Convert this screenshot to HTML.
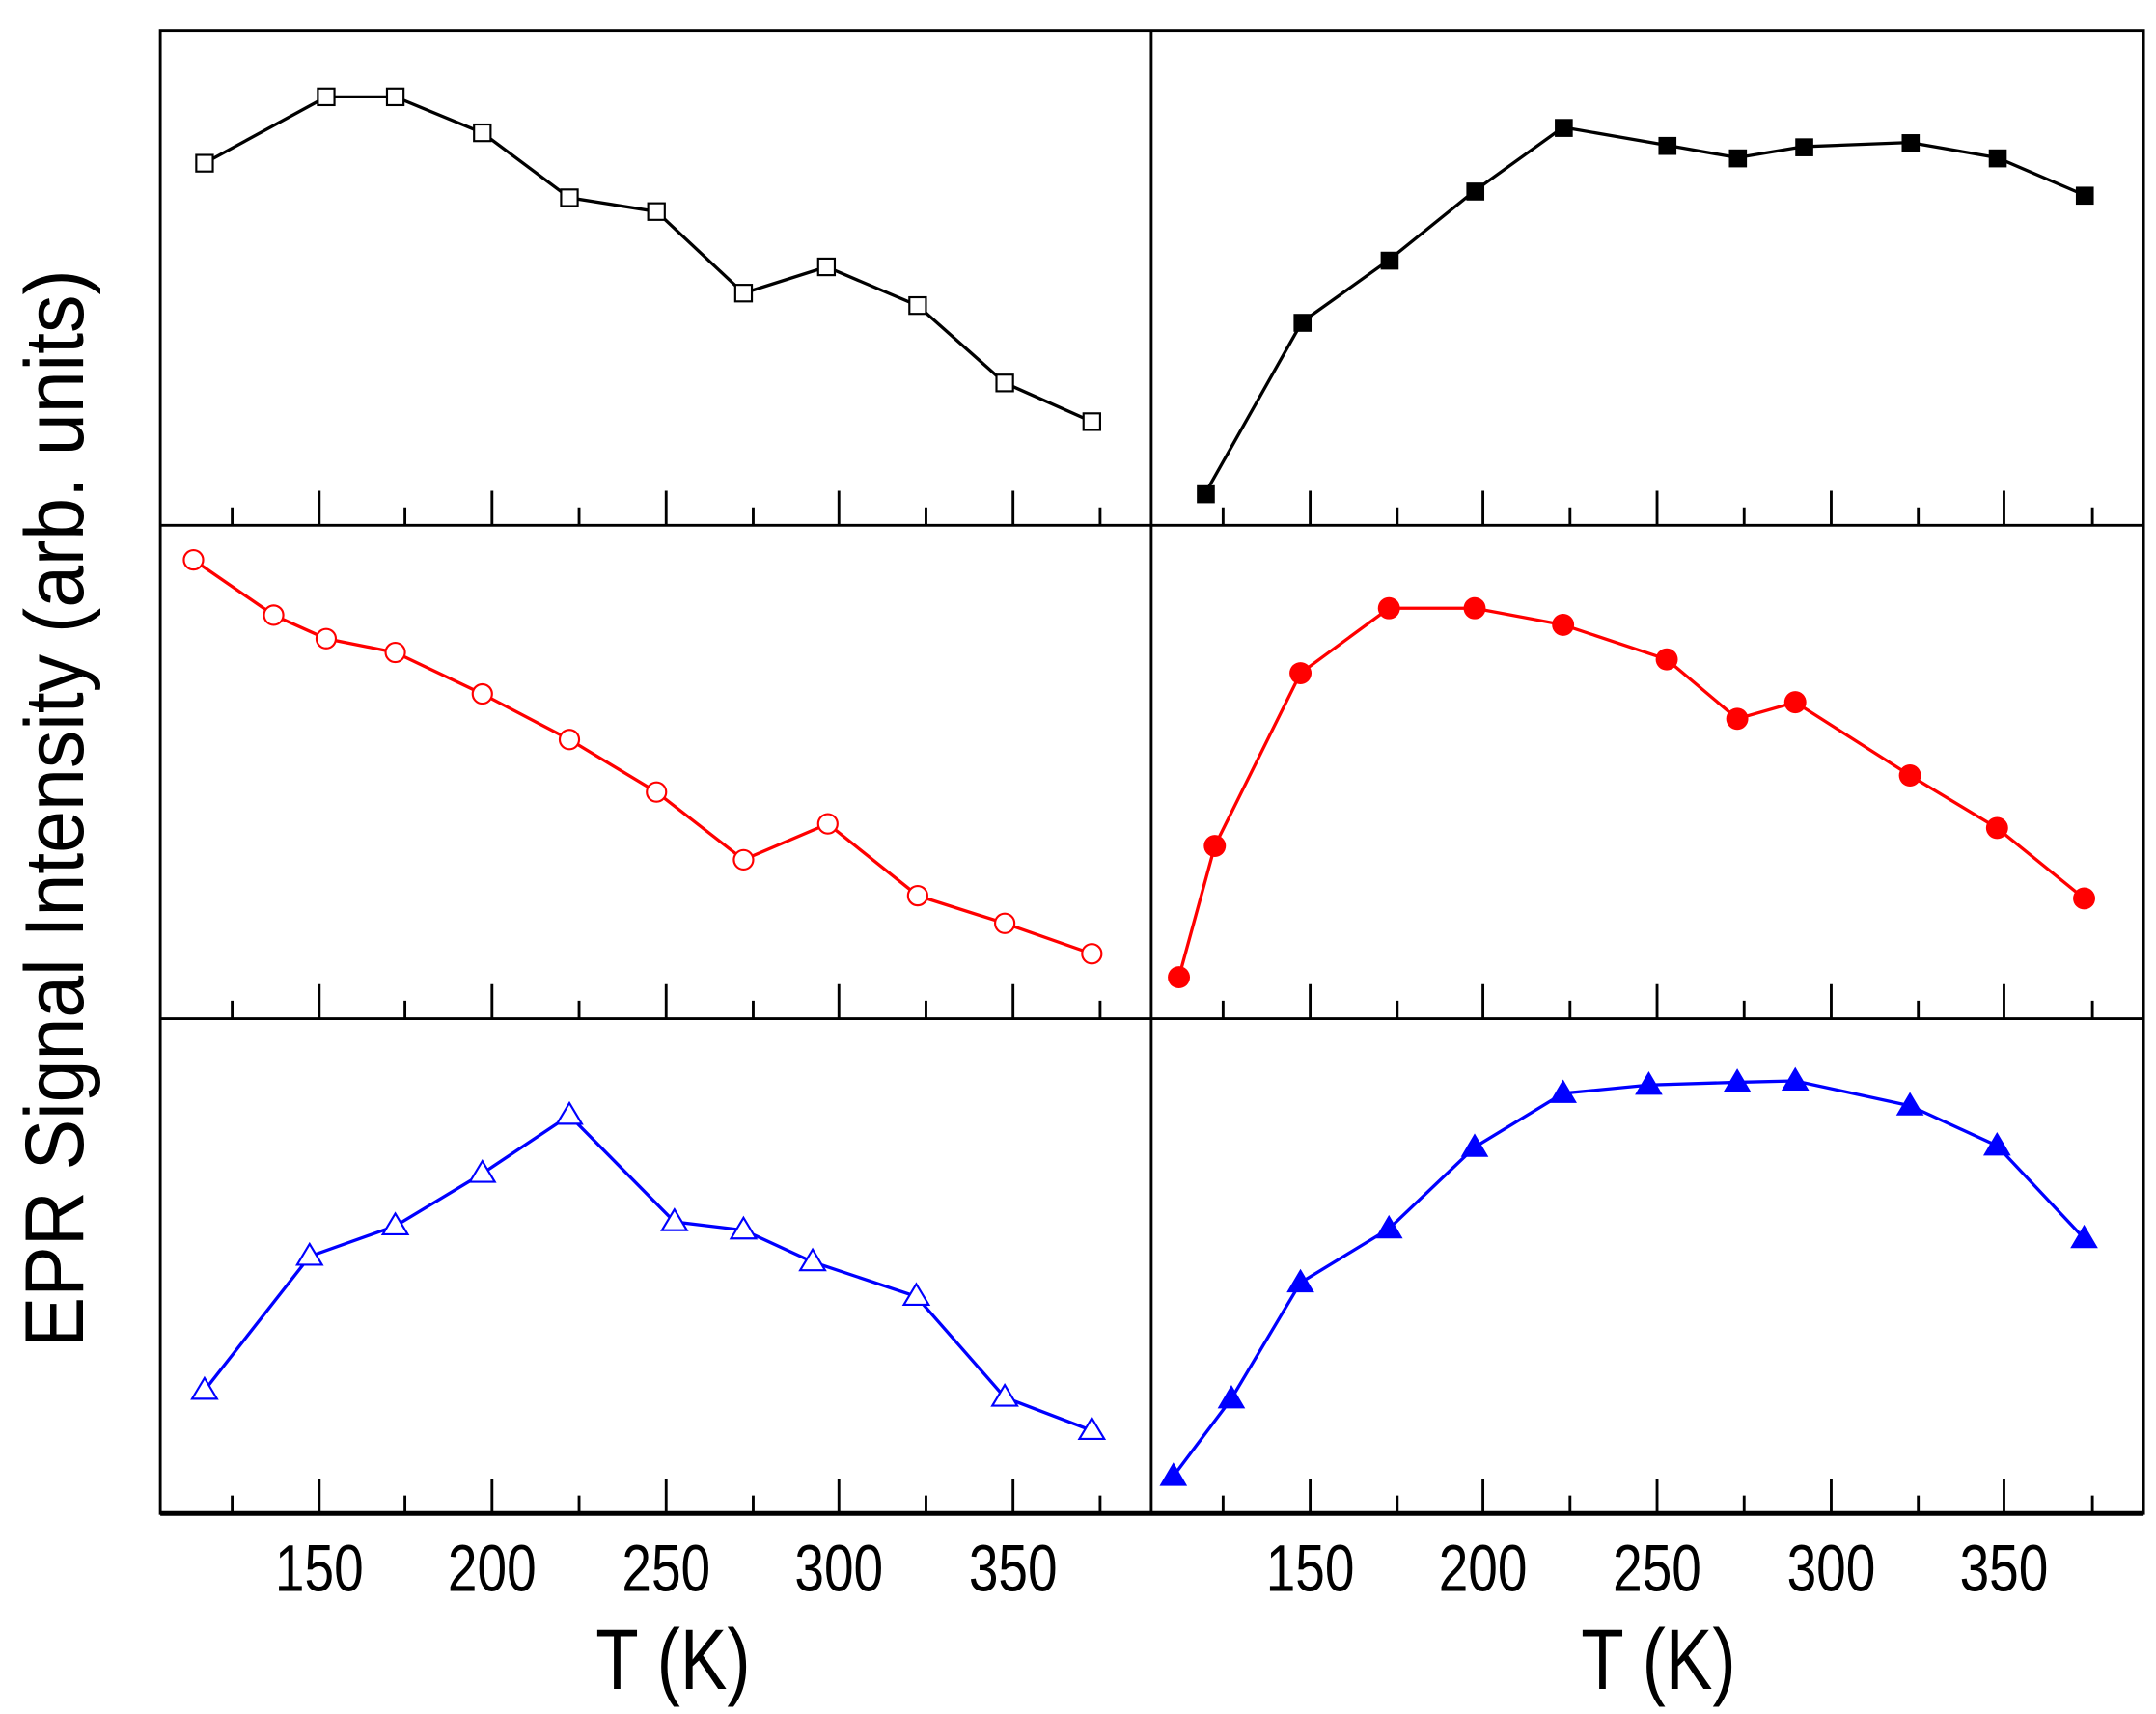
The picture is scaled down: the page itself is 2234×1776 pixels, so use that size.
<!DOCTYPE html>
<html><head><meta charset="utf-8"><style>html,body{margin:0;padding:0;background:#fff}svg{display:block}</style></head>
<body>
<svg width="2234" height="1776" viewBox="0 0 1560 1240" xmlns="http://www.w3.org/2000/svg" font-family="Liberation Sans, Arial, sans-serif">
<rect width="1560" height="1240" fill="#fff"/>
<g stroke="#000" stroke-width="2" fill="none">
<rect x="116" y="22" width="1435" height="1073"/>
<line x1="833" y1="22" x2="833" y2="1095"/>
<line x1="116" y1="380" x2="1551" y2="380"/>
<line x1="116" y1="737" x2="1551" y2="737"/>
<line x1="116" y1="1095" x2="1551" y2="1095" stroke-width="3.5"/>
</g>
<g stroke="#000" stroke-width="2">
<path d="M231 380v-25M356 380v-25M482 380v-25M607 380v-25M733 380v-25M948 380v-25M1073 380v-25M1199 380v-25M1325 380v-25M1450 380v-25
M168 380v-13M293 380v-13M419 380v-13M545 380v-13M670 380v-13M796 380v-13M885 380v-13M1011 380v-13M1136 380v-13M1262 380v-13M1388 380v-13M1514 380v-13
M231 737v-25M356 737v-25M482 737v-25M607 737v-25M733 737v-25M948 737v-25M1073 737v-25M1199 737v-25M1325 737v-25M1450 737v-25
M168 737v-13M293 737v-13M419 737v-13M545 737v-13M670 737v-13M796 737v-13M885 737v-13M1011 737v-13M1136 737v-13M1262 737v-13M1388 737v-13M1514 737v-13
M231 1095v-25M356 1095v-25M482 1095v-25M607 1095v-25M733 1095v-25M948 1095v-25M1073 1095v-25M1199 1095v-25M1325 1095v-25M1450 1095v-25
M168 1095v-13M293 1095v-13M419 1095v-13M545 1095v-13M670 1095v-13M796 1095v-13M885 1095v-13M1011 1095v-13M1136 1095v-13M1262 1095v-13M1388 1095v-13M1514 1095v-13"/>
</g>
<g fill="none" stroke-width="2.3">
<polyline stroke="#000" points="148,118 236,70 286,70 349,96 412,143 475,153 538,212 598,193 664,221 727,277 790,305"/>
<polyline stroke="#000" points="872,357 942,233 1005,188 1067,138 1131,92 1206,105 1257,114 1305,106 1382,103 1445,114 1508,141"/>
<polyline stroke="#f00" points="140,405 198,445 236,462 286,472 349,502 412,535 475,573 538,622 599,596 664,648 727,668 790,690"/>
<polyline stroke="#f00" points="853,707 879,612 941,487 1005,440 1067,440 1131,452 1206,477 1257,520 1299,508 1382,561 1445,599 1508,650"/>
<polyline stroke="#00f" points="148,1006 224,909 286,887 349,849 412,807 488,884 538,890 588,913 663,938 727,1011 790,1035"/>
<polyline stroke="#00f" points="849,1068 891,1012 941,928 1005,889 1067,830 1131,791 1193,785 1257,783 1299,782 1382,800 1445,829 1508,896"/>
</g>
<g fill="#fff" stroke="#000" stroke-width="1.5">
<rect x="142" y="112" width="12" height="12"/><rect x="230" y="64" width="12" height="12"/><rect x="280" y="64" width="12" height="12"/><rect x="343" y="90" width="12" height="12"/><rect x="406" y="137" width="12" height="12"/><rect x="469" y="147" width="12" height="12"/><rect x="532" y="206" width="12" height="12"/><rect x="592" y="187" width="12" height="12"/><rect x="658" y="215" width="12" height="12"/><rect x="721" y="271" width="12" height="12"/><rect x="784" y="299" width="12" height="12"/>
</g>
<g fill="#000">
<rect x="866" y="351" width="13" height="13"/><rect x="936" y="227" width="13" height="13"/><rect x="999" y="182" width="13" height="13"/><rect x="1061" y="132" width="13" height="13"/><rect x="1125" y="86" width="13" height="13"/><rect x="1200" y="99" width="13" height="13"/><rect x="1251" y="108" width="13" height="13"/><rect x="1299" y="100" width="13" height="13"/><rect x="1376" y="97" width="13" height="13"/><rect x="1439" y="108" width="13" height="13"/><rect x="1502" y="135" width="13" height="13"/>
</g>
<g fill="#fff" stroke="#f00" stroke-width="1.5">
<circle cx="140" cy="405" r="7"/><circle cx="198" cy="445" r="7"/><circle cx="236" cy="462" r="7"/><circle cx="286" cy="472" r="7"/><circle cx="349" cy="502" r="7"/><circle cx="412" cy="535" r="7"/><circle cx="475" cy="573" r="7"/><circle cx="538" cy="622" r="7"/><circle cx="599" cy="596" r="7"/><circle cx="664" cy="648" r="7"/><circle cx="727" cy="668" r="7"/><circle cx="790" cy="690" r="7"/>
</g>
<g fill="#f00">
<circle cx="853" cy="707" r="8"/><circle cx="879" cy="612" r="8"/><circle cx="941" cy="487" r="8"/><circle cx="1005" cy="440" r="8"/><circle cx="1067" cy="440" r="8"/><circle cx="1131" cy="452" r="8"/><circle cx="1206" cy="477" r="8"/><circle cx="1257" cy="520" r="8"/><circle cx="1299" cy="508" r="8"/><circle cx="1382" cy="561" r="8"/><circle cx="1445" cy="599" r="8"/><circle cx="1508" cy="650" r="8"/>
</g>
<g fill="#fff" stroke="#00f" stroke-width="1.5">
<path d="M148 997l9 15h-18zM224 900l9 15h-18zM286 878l9 15h-18zM349 840l9 15h-18zM412 798l9 15h-18zM488 875l9 15h-18zM538 881l9 15h-18zM588 904l9 15h-18zM663 929l9 15h-18zM727 1002l9 15h-18zM790 1026l9 15h-18z"/>
</g>
<g fill="#00f">
<path d="M849 1058l10 17h-20zM891 1002l10 17h-20zM941 918l10 17h-20zM1005 879l10 17h-20zM1067 820l10 17h-20zM1131 781l10 17h-20zM1193 775l10 17h-20zM1257 773l10 17h-20zM1299 772l10 17h-20zM1382 790l10 17h-20zM1445 819l10 17h-20zM1508 886l10 17h-20z"/>
</g>
<g font-size="48" text-anchor="middle" fill="#000">
<text x="231" y="1151" transform="translate(231 0) scale(0.8 1) translate(-231 0)">150</text>
<text x="356" y="1151" transform="translate(356 0) scale(0.8 1) translate(-356 0)">200</text>
<text x="482" y="1151" transform="translate(482 0) scale(0.8 1) translate(-482 0)">250</text>
<text x="607" y="1151" transform="translate(607 0) scale(0.8 1) translate(-607 0)">300</text>
<text x="733" y="1151" transform="translate(733 0) scale(0.8 1) translate(-733 0)">350</text>
<text x="948" y="1151" transform="translate(948 0) scale(0.8 1) translate(-948 0)">150</text>
<text x="1073" y="1151" transform="translate(1073 0) scale(0.8 1) translate(-1073 0)">200</text>
<text x="1199" y="1151" transform="translate(1199 0) scale(0.8 1) translate(-1199 0)">250</text>
<text x="1325" y="1151" transform="translate(1325 0) scale(0.8 1) translate(-1325 0)">300</text>
<text x="1450" y="1151" transform="translate(1450 0) scale(0.8 1) translate(-1450 0)">350</text>
</g>
<g font-size="62" text-anchor="middle" fill="#000">
<text x="487" y="1222" transform="translate(487 0) scale(0.82 1) translate(-487 0)">T (K)</text>
<text x="1200" y="1222" transform="translate(1200 0) scale(0.82 1) translate(-1200 0)">T (K)</text>
</g>
<text x="0" y="0" font-size="60" text-anchor="middle" textLength="780" lengthAdjust="spacingAndGlyphs" transform="translate(60 585) rotate(-90)" fill="#000">EPR Signal Intensity (arb. units)</text>
</svg>
</body></html>
